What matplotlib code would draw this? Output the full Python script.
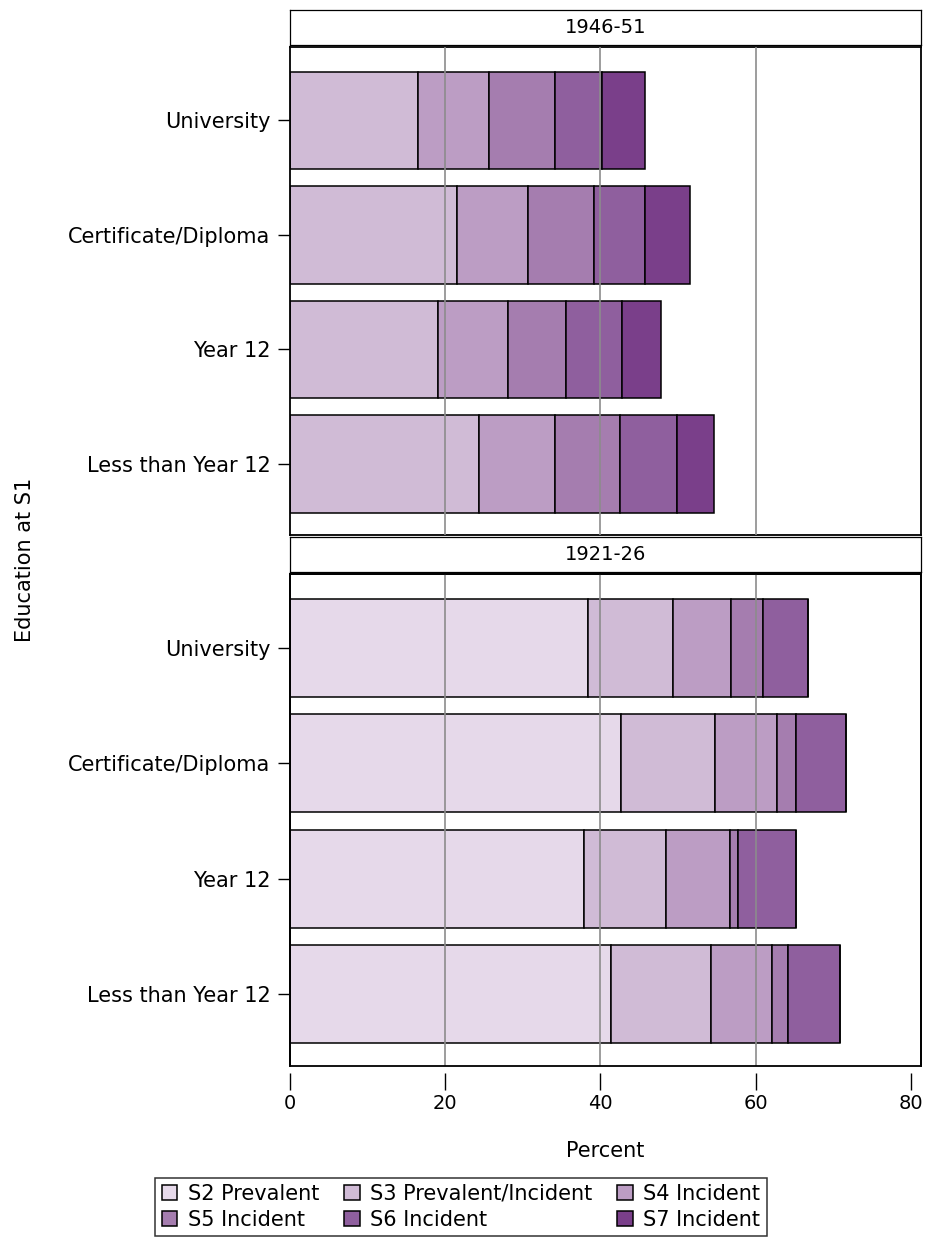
import matplotlib
matplotlib.use('Agg')
import matplotlib.pyplot as plt
from matplotlib.patches import Rectangle, Patch

plt.rcParams['font.family'] = ['DejaVu Sans']

categories = ['University', 'Certificate/Diploma', 'Year 12', 'Less than Year 12']
series = ['S2 Prevalent', 'S3 Prevalent/Incident', 'S4 Incident',
          'S5 Incident', 'S6 Incident', 'S7 Incident']
colors = ['#e6d9ea', '#d0bbd6', '#bc9dc4', '#a57daf', '#8f5f9e', '#7a3f8a']

# 1946-51 cohort (segment widths, percent)
s2_4651 = [0.0, 0.0, 0.0, 0.0]
s3_4651 = [16.5, 21.5, 19.1, 24.3]
s4_4651 = [9.1, 9.2, 9.0, 9.8]
s5_4651 = [8.5, 8.5, 7.5, 8.4]
s6_4651 = [6.1, 6.5, 7.2, 7.3]
s7_4651 = [5.5, 5.9, 5.0, 4.8]

# 1921-26 cohort
s2_2126 = [38.4, 42.6, 37.9, 41.3]
s3_2126 = [10.9, 12.1, 10.6, 12.9]
s4_2126 = [7.5, 8.0, 8.2, 7.9]
s5_2126 = [4.1, 2.5, 1.0, 2.1]
s6_2126 = [5.8, 6.5, 7.5, 6.7]
s7_2126 = [0.0, 0.0, 0.0, 0.0]

panels = [
    ('1946-51', [s2_4651, s3_4651, s4_4651, s5_4651, s6_4651, s7_4651]),
    ('1921-26', [s2_2126, s3_2126, s4_2126, s5_2126, s6_2126, s7_2126]),
]

W, H = 926, 1245
FS = 15
fig = plt.figure(figsize=(W / 100, H / 100), dpi=100)


def box(x0, y0, x1, y1):
    return [x0 / W, 1 - y1 / H, (x1 - x0) / W, (y1 - y0) / H]


x0, x1 = 290, 921
layout = [((10, 45), (47, 535)), ((537, 572), (574, 1066))]

for i, ((title, data), (hdr, pnl)) in enumerate(zip(panels, layout)):
    hax = fig.add_axes(box(x0, hdr[0], x1, hdr[1]))
    hax.set_xticks([])
    hax.set_yticks([])
    for s in hax.spines.values():
        s.set_linewidth(0.9)
    hax.text(0.5, 0.5, title, ha='center', va='center', fontsize=14,
             transform=hax.transAxes)

    ax = fig.add_axes(box(x0, pnl[0], x1, pnl[1]))
    ypos = list(range(len(categories)))
    left = [0.0] * len(categories)
    for vals, col in zip(data, colors):
        ax.barh(ypos, vals, left=left, height=0.85, color=col,
                edgecolor='black', linewidth=1.1, zorder=2)
        left = [l + v for l, v in zip(left, vals)]
    for g in [20, 40, 60]:
        ax.axvline(g, color='#8c8c8c', linewidth=1.2, zorder=3)
    ax.set_xlim(0, 81.3)
    ax.set_ylim(3.62, -0.64)
    ax.set_yticks(ypos)
    ax.set_yticklabels(categories, fontsize=FS)
    ax.tick_params(axis='y', length=9, width=1, pad=5)
    for s in ax.spines.values():
        s.set_linewidth(1.3)
    if i == 0:
        ax.set_xticks([])
    else:
        ax.set_xticks([0, 20, 40, 60, 80])
        ax.tick_params(axis='x', length=12, width=1, pad=3, labelsize=14)
        ax.spines['bottom'].set_position(('outward', 5))
        ax.spines['bottom'].set_color('none')
        ax.add_patch(Rectangle((0, 0), 1, 1, transform=ax.transAxes, fill=False,
                               edgecolor='black', linewidth=1.3, clip_on=False,
                               zorder=5))
        ax.set_xlabel('Percent', fontsize=FS, labelpad=20)

fig.text(25 / W, 1 - 560 / H, 'Education at S1', rotation=90, ha='center',
         va='center', fontsize=FS)

handles = [Patch(facecolor=c, edgecolor='black', linewidth=1.1) for c in colors]
order = [0, 3, 1, 4, 2, 5]
leg = fig.legend([handles[k] for k in order], [series[k] for k in order],
                 ncol=3, loc='center', bbox_to_anchor=(461 / W, 1 - 1207 / H),
                 fontsize=FS, frameon=True, fancybox=False, edgecolor='black',
                 handlelength=0.75, handleheight=0.75, handletextpad=0.5,
                 columnspacing=1.2, labelspacing=0.3, borderpad=0.3)
leg.get_frame().set_linewidth(1.1)

fig.savefig('out.png', dpi=100)
